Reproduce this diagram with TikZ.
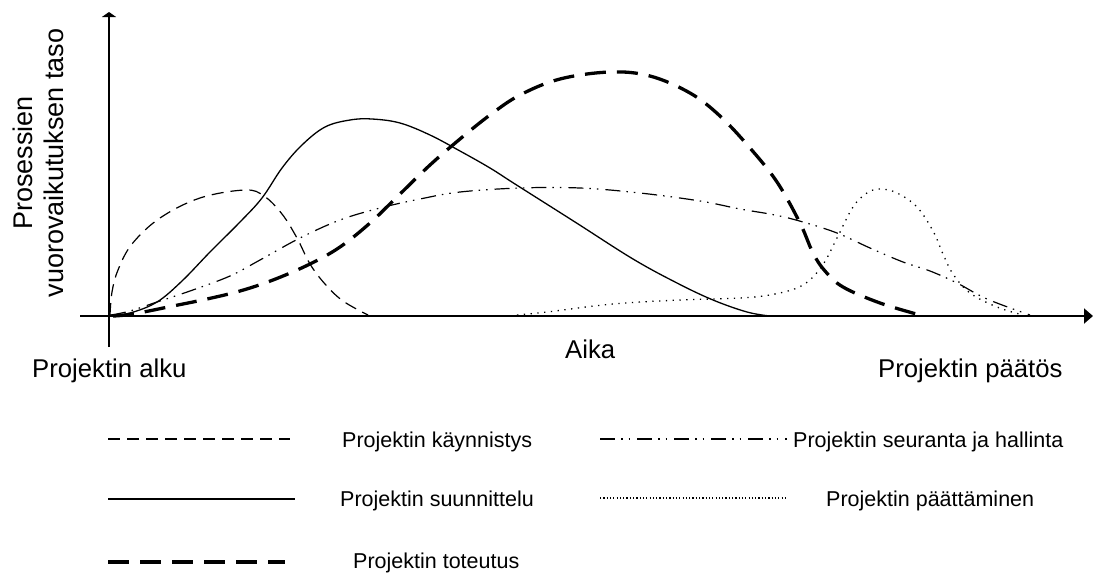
\documentclass[tikz,border=0pt]{standalone}
\usepackage{fontspec}
\setmainfont{Liberation Sans}
\usetikzlibrary{arrows.meta}
\begin{document}
\begin{tikzpicture}[x=1pt,y=-1pt,
  axis/.style={line width=2pt},
  kayn/.style={line width=1.2pt,dash pattern=on 12pt off 7pt},
  suun/.style={line width=1.3pt},
  tote/.style={line width=3.3pt,dash pattern=on 21pt off 11pt},
  seur/.style={line width=1.2pt,dash pattern=on 15pt off 6pt on 1.5pt off 6pt on 1.5pt off 7pt},
  paat/.style={line width=1.3pt,dash pattern=on 1.3pt off 5.5pt},
  paatleg/.style={line width=1.2pt,dash pattern=on 1.2pt off 2.1pt},
  big/.style={font=\fontsize{25.7}{30}\selectfont,inner sep=0pt},
  leg/.style={font=\fontsize{21.5}{26}\selectfont,inner sep=0pt},
]
\useasboundingbox (0,0) rectangle (1093,574);
% axes
\coordinate (xs) at (80,316);
\coordinate (xe) at (1093,316);
\coordinate (ys) at (109,347);
\coordinate (ye) at (109,12);
\draw[axis,-{Triangle[length=9pt,width=15pt]}] (xs) -- (xe);
\draw[axis,-{Triangle[length=5pt,width=14pt]}] (ys) -- (ye);
% curves
\draw[kayn] plot[smooth,tension=0.6] coordinates {(110,315) (112,292) (118,270) (132,244) (160,218) (200,198) (245,190) (264,196) (282,214) (297,238) (310,264) (325,284) (343,301) (368,315)};
\draw[suun] plot[smooth,tension=0.6] coordinates {(110,315) (130,313) (157,302) (182,281) (210,252) (240,222) (262,198) (282,168) (302,145) (325,127) (350,120) (372,119) (400,123) (430,135) (460,151) (490,168) (515,184) (575,222) (633,259) (677,283) (713,300) (747,312) (770,316)};
\draw[tote] plot[smooth,tension=0.6] coordinates {(113,316) (133,314) (173,306) (207,299) (240,291) (273,280) (310,264) (340,247) (370,223) (400,194) (430,165) (460,139) (490,115) (520,95) (560,79) (610,72) (650,76) (690,93) (720,116) (750,148) (777,182) (800,223) (813,253) (825,271) (843,287) (880,303) (920,315)};
\draw[seur] plot[smooth,tension=0.6] coordinates {(111,315) (130,311) (157,302) (190,291) (230,276) (260,260) (300,238) (340,220) (380,208) (420,199) (460,192) (520,188) (580,188) (640,193) (700,201) (740,209) (775,215) (803,222) (837,233) (870,248) (903,262) (930,271) (957,283) (987,299) (1030,315)};
\draw[paat] plot[smooth,tension=0.6] coordinates {(517,315) (547,312) (613,304) (680,300) (740,298) (775,294) (803,285) (822,266) (837,238) (853,207) (867,193) (880,189) (897,193) (917,207) (933,231) (943,254) (953,274) (970,293) (997,307) (1023,315)};
% axis labels
\node[big,anchor=base west] (alku) at (32,377) {Projektin alku};
\node[big,anchor=base west] (paatos) at (878,377) {Projektin päätös};
\node[big,anchor=base west] (aika) at (565,358) {Aika};
\node[inner sep=0pt,rotate=90,align=center,font=\fontsize{27}{31}\selectfont] (ylab) at (38,163) {Prosessien\\vuorovaikutuksen taso};
% legend
\coordinate (l1a) at (108,439); \coordinate (l1b) at (290,439);
\coordinate (l2a) at (108,499); \coordinate (l2b) at (295,499);
\coordinate (l3a) at (108,562); \coordinate (l3b) at (285,562);
\coordinate (r1a) at (600,439); \coordinate (r1b) at (787,439);
\coordinate (r2a) at (600,498); \coordinate (r2b) at (785,498);
\draw[kayn] (l1a) -- (l1b);
\draw[suun] (l2a) -- (l2b);
\draw[tote] (l3a) -- (l3b);
\draw[seur] (r1a) -- (r1b);
\draw[paatleg] (r2a) -- (r2b);
\node[leg,anchor=base west] (t1) at (342,447) {Projektin käynnistys};
\node[leg,anchor=base west] (t2) at (340,506) {Projektin suunnittelu};
\node[leg,anchor=base west] (t3) at (353,568) {Projektin toteutus};
\node[leg,anchor=base west] (t4) at (793,447) {Projektin seuranta ja hallinta};
\node[leg,anchor=base west] (t5) at (826,506) {Projektin päättäminen};
\end{tikzpicture}
\end{document}
